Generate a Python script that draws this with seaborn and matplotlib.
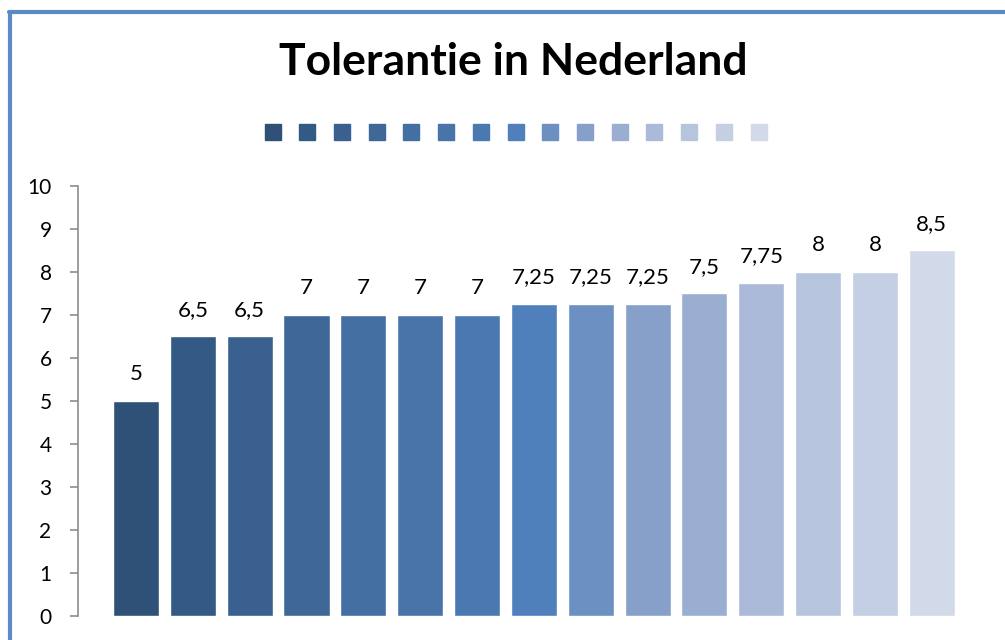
import matplotlib
matplotlib.use("Agg")
import matplotlib.pyplot as plt
import seaborn as sns
import pandas as pd
from matplotlib.lines import Line2D


#==============================================================
# 1. Data
#==============================================================

categories = [f"R{i}" for i in range(1, 16)]
values = [5, 6.5, 6.5, 7, 7, 7, 7, 7.25, 7.25, 7.25, 7.5, 7.75, 8, 8, 8.5]
colors = ["#2F5077", "#335A84", "#3A6090", "#3F6899", "#446FA2",
          "#4874AA", "#4A79B1", "#4F80BC", "#6D90C3", "#86A0CA",
          "#9AAED1", "#ABBAD8", "#B7C4DE", "#C4CFE3", "#D2DAE9"]
title = "Tolerantie in Nederland"

df = pd.DataFrame({"cat": categories, "val": values})


#==============================================================
# 2. Plot
#==============================================================

sns.set_style("white")
plt.rcParams["font.family"] = ["Lato", "DejaVu Sans"]
plt.rcParams["text.color"] = "black"
plt.rcParams["ytick.labelcolor"] = "black"

fig = plt.figure(figsize=(10.05, 6.4), dpi=100)
ax = fig.add_axes([0.0776, 0.0375, 0.905, 0.672])

sns.barplot(data=df, x="cat", y="val", hue="cat", palette=colors,
            saturation=1, width=0.81, legend=False, ax=ax)

ax.set_xlim(-1.02, 14.98)
ax.set_ylim(0, 10)
ax.set_yticks(range(0, 11))
ax.set_xticks([])
ax.set_xlabel("")
ax.set_ylabel("")

for s in ["top", "right", "bottom"]:
    ax.spines[s].set_visible(False)
ax.spines["left"].set_color("#8C8C8C")
ax.spines["left"].set_linewidth(1.2)
ax.tick_params(axis="y", direction="out", length=6, width=1.2, color="#8C8C8C",
               pad=13, labelsize=15, labelcolor="black", left=True)

# value labels with decimal comma
for cont in ax.containers:
    labs = [f"{v:g}".replace(".", ",") for v in cont.datavalues]
    ax.bar_label(cont, labels=labs, padding=12, fontsize=16, color="black")

# title
fig.text(0.511, 0.903, title, ha="center", va="center",
         fontsize=32, fontweight="bold", color="black")

# legend of coloured squares without text
handles = [Line2D([], [], marker="s", linestyle="", markersize=11,
                  markerfacecolor=c, markeredgecolor=c) for c in colors]
fig.legend(handles, [""] * len(colors), loc="center",
           bbox_to_anchor=(0.513, 0.793), ncol=len(colors), frameon=False,
           handlelength=1.0, handletextpad=0.0, columnspacing=1.5,
           borderpad=0)

# chart frame (left and top edge)
fig.add_artist(Line2D([0.01, 0.01], [0.0, 0.982], color="#5B8AC6", lw=3,
                      transform=fig.transFigure))
fig.add_artist(Line2D([0.0085, 1.0], [0.982, 0.982], color="#5B8AC6", lw=3,
                      transform=fig.transFigure))

fig.savefig("out.png", dpi=100)
